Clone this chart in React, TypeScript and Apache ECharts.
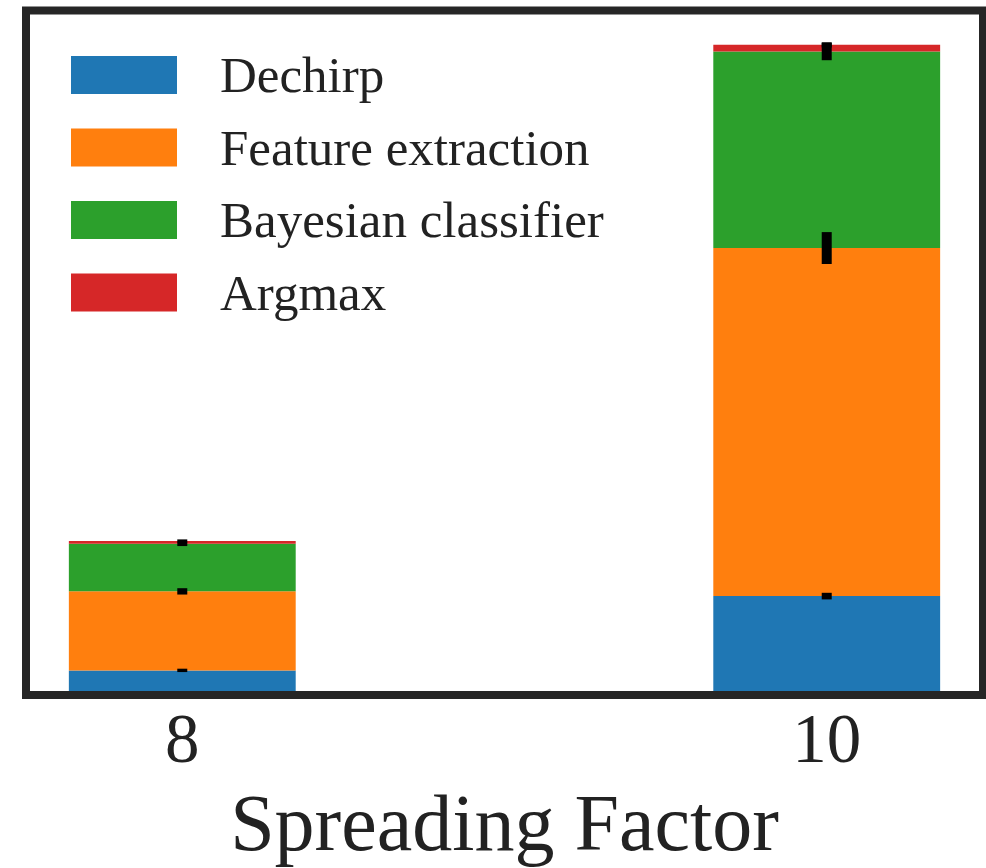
import React, { useEffect, useRef } from "react";
import * as echarts from "echarts";

// Spreading factor categories (placed at x = 0, 1)
const categories = ["8", "10"];
const seriesNames = ["Dechirp", "Feature extraction", "Bayesian classifier", "Argmax"];
const colors = ["#1f77b4", "#ff7f0e", "#2ca02c", "#d62728"];

// Stacked segment heights per spreading factor (arbitrary time units)
const dechirp = [0.349, 1.495];
const featureExtraction = [1.219, 5.37];
const bayesianClassifier = [0.733, 3.032];
const argmax = [0.046, 0.103];

// Error half-widths per segment
const dechirpErr = [0.026, 0.051];
const featureErr = [0.049, 0.246];
const bayesErr = [0.034, 0.134];
const argmaxErr = [0.023, 0.04];

const BAR_WIDTH = 0.352; // in x-axis units

const FONT = "'Liberation Serif', 'Times New Roman', serif";
const TEXT = "#222222";

export default function App() {
  const ref = useRef<HTMLDivElement>(null);

  useEffect(() => {
    if (!ref.current) return;
    const chart = echarts.init(ref.current, null, { renderer: "svg" });

    const values = [dechirp, featureExtraction, bayesianClassifier, argmax];
    const errs = [dechirpErr, featureErr, bayesErr, argmaxErr];

    // cumulative bottoms
    const bottoms = values.map(() => categories.map(() => 0));
    categories.forEach((_, ci) => {
      let cum = 0;
      values.forEach((arr, si) => {
        bottoms[si][ci] = cum;
        cum += arr[ci];
      });
    });

    const barSeries = seriesNames.map((name, si) => ({
      name,
      type: "custom",
      itemStyle: { color: colors[si] },
      data: categories.map((_, ci) => [ci, bottoms[si][ci], bottoms[si][ci] + values[si][ci]]),
      encode: { x: 0, y: [1, 2] },
      z: 2,
      renderItem: (params: any, api: any) => {
        const x = api.value(0);
        const b = api.value(1);
        const t = api.value(2);
        const pb = api.coord([x, b]);
        const pt = api.coord([x, t]);
        const w = api.size([BAR_WIDTH, 0])[0];
        return {
          type: "rect",
          shape: { x: pb[0] - w / 2, y: pt[1], width: w, height: pb[1] - pt[1] },
          style: { fill: colors[si] },
        };
      },
    }));

    const errData: number[][] = [];
    categories.forEach((_, ci) => {
      values.forEach((arr, si) => {
        errData.push([ci, bottoms[si][ci] + arr[ci], errs[si][ci]]);
      });
    });

    chart.setOption({
      animation: false,
      grid: { left: 26, top: 10.5, width: 957, height: 684.5, containLabel: false },
      xAxis: {
        type: "value",
        min: -0.2425,
        max: 1.2425,
        axisLine: { show: false },
        axisTick: { show: false },
        splitLine: { show: false },
        axisLabel: {
          customValues: [0, 1],
          formatter: (v: number) => categories[Math.round(v)] ?? "",
          fontFamily: FONT,
          fontSize: 69,
          color: TEXT,
          margin: 11,
        },
        name: "Spreading Factor",
        nameLocation: "middle",
        nameGap: 90,
        nameTextStyle: { fontFamily: FONT, fontSize: 80, color: TEXT },
      },
      yAxis: {
        type: "value",
        min: 0,
        max: 10.53,
        show: false,
        splitLine: { show: false },
      },
      legend: {
        data: seriesNames,
        orient: "vertical",
        left: 71,
        top: 49.5,
        padding: 0,
        itemWidth: 106,
        itemHeight: 38,
        itemGap: 21.5,
        icon: "rect",
        textStyle: {
          fontFamily: FONT,
          fontSize: 51,
          color: TEXT,
          padding: [0, 0, 0, 38],
        },
      },
      series: [
        ...barSeries,
        {
          type: "custom",
          name: "errors",
          data: errData,
          encode: { x: 0, y: 1 },
          z: 5,
          renderItem: (params: any, api: any) => {
            const x = api.value(0);
            const top = api.value(1);
            const err = api.value(2);
            const p1 = api.coord([x, top + err]);
            const p2 = api.coord([x, top - err]);
            return {
              type: "rect",
              shape: { x: p1[0] - 5, y: p1[1], width: 10, height: Math.max(p2[1] - p1[1], 2) },
              style: { fill: "#000000" },
            };
          },
        },
      ],
      graphic: [
        {
          type: "rect",
          z: 100,
          shape: { x: 26, y: 10.5, width: 957, height: 684.5 },
          style: { fill: "none", stroke: "#262626", lineWidth: 8 },
        },
      ],
    });

    return () => chart.dispose();
  }, []);

  return (
    <div
      ref={ref}
      style={{ position: "fixed", left: 0, top: 0, width: 986, height: 868, background: "#ffffff" }}
    />
  );
}
